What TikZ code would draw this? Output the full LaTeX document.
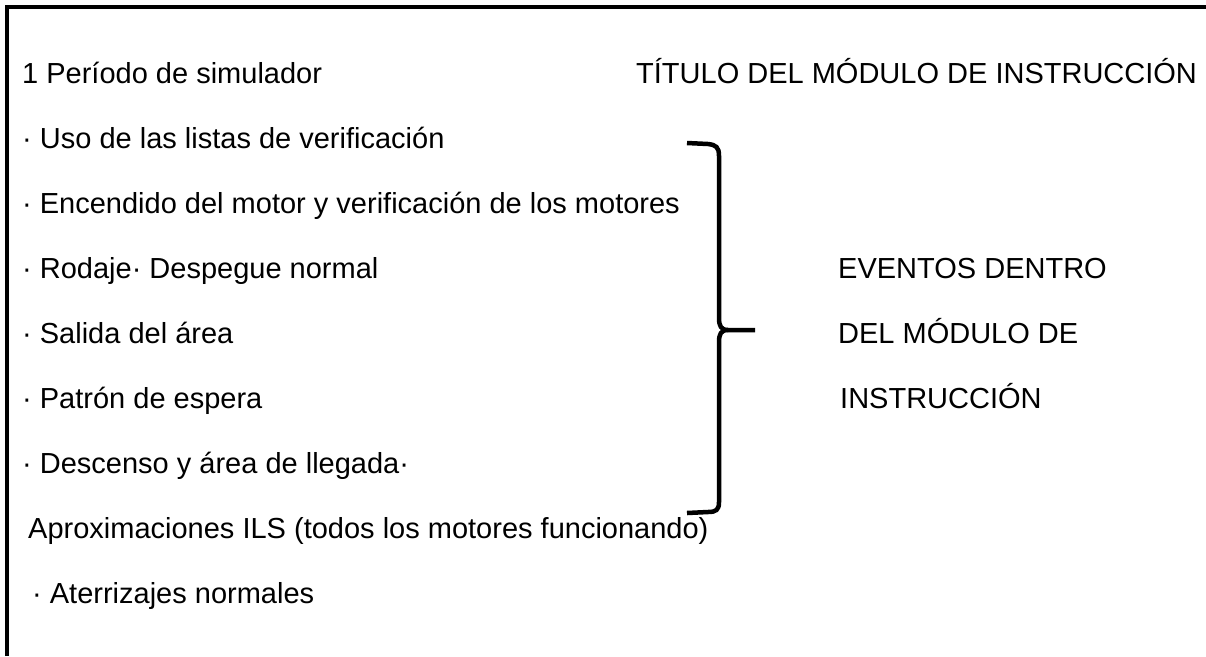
\documentclass[tikz,border=0pt]{standalone}
\usepackage{fontspec}
\setmainfont{Liberation Sans}
\begin{document}
\begin{tikzpicture}[x=1pt,y=-1pt,
  txt/.style={anchor=base west,inner sep=0pt,font=\fontsize{29}{33}\selectfont},
  frame/.style={line width=4pt},
  bracepath/.style={line width=4.5pt,line cap=butt,line join=round}]
\useasboundingbox (0,0) rectangle (1206,656);
% frame (left and top edges)
\draw[frame] (7,656) -- (7,7) -- (1206,7);
% left column
\node[txt] (l1) at (22,83) {1 Período de simulador};
\node[txt] (l2) at (22,148) {· Uso de las listas de verificación};
\node[txt] (l3) at (22,213) {· Encendido del motor y verificación de los motores};
\node[txt] (l4) at (22,278) {· Rodaje· Despegue normal};
\node[txt] (l5) at (22,343) {· Salida del área};
\node[txt] (l6) at (22,408) {· Patrón de espera};
\node[txt] (l7) at (22,473) {· Descenso y área de llegada·};
\node[txt] (l8) at (28,538) {Aproximaciones ILS (todos los motores funcionando)};
\node[txt] (l9) at (32,603) {· Aterrizajes normales};
% right column
\node[txt] (t1) at (636,83) {TÍTULO DEL MÓDULO DE INSTRUCCIÓN};
\node[txt] (r1) at (838,278) {EVENTOS DENTRO};
\node[txt] (r2) at (838,343) {DEL MÓDULO DE};
\node[txt] (r3) at (840,408) {INSTRUCCIÓN};
% brace
\draw[bracepath] (687,143) -- (708,144) .. controls (716,145) and (719,147) .. (719,156)
  -- (719,318) .. controls (719,326) and (721,330) .. (728,330) -- (755,330);
\draw[bracepath] (728,330) .. controls (721,330) and (719,334) .. (719,342)
  -- (719,502) .. controls (719,510) and (716,512) .. (708,512) -- (687,513);
\end{tikzpicture}
\end{document}
